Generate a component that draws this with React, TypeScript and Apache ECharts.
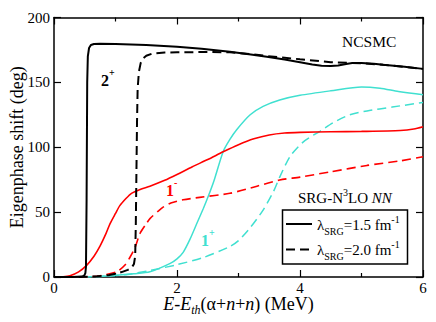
import React, { useEffect, useRef } from "react";
import * as echarts from "echarts";

const FONT = "Liberation Serif, Times New Roman, serif";

// axis ranges: x in MeV, y in degrees
const xRange = [0, 6];
const yRange = [0, 200];

// 2+ channel, lambda = 1.5 fm^-1 (solid)
const twoPlusSolid: number[][] = [
  [0, 0], [0.3, 0], [0.45, 0.3], [0.49, 1], [0.51, 3], [0.52, 8], [0.53, 60], [0.54, 150],
  [0.55, 170], [0.57, 176.5], [0.6, 178.8], [0.65, 179.6], [0.75, 179.8], [1.0, 179.5],
  [1.5, 178.8], [2.0, 177.5], [2.4, 176], [2.86, 173.6], [3.2, 171.5], [3.46, 169.8],
  [3.75, 167.6], [4.0, 165.5], [4.2, 163.8], [4.35, 162.9], [4.5, 162.6], [4.62, 163],
  [4.75, 164.2], [4.85, 164.9], [5.0, 165], [5.2, 164.3], [5.35, 163.6], [5.7, 162],
  [6, 160.4],
];
// 2+ channel, lambda = 2.0 fm^-1 (dashed)
const twoPlusDashed: number[][] = [
  [0.4, 0], [0.7, 0.5], [0.9, 1.5], [1.0, 2.5], [1.1, 3.8], [1.2, 5.5], [1.26, 7],
  [1.3, 10], [1.32, 16], [1.33, 40], [1.34, 80], [1.35, 120], [1.36, 145], [1.38, 158],
  [1.41, 165], [1.45, 168.5], [1.5, 170.5], [1.6, 172.2], [1.8, 173], [2.0, 173.2],
  [2.5, 173.4], [2.86, 173.2], [3.2, 171.8], [3.46, 170.3], [3.75, 169], [4.0, 167.8],
  [4.5, 165.5], [4.85, 165], [5.0, 164.8], [5.35, 163.5], [5.7, 162], [6, 160.4],
];
// 1- channel, solid
const oneMinusSolid: number[][] = [
  [0, 0], [0.15, 0.2], [0.26, 1], [0.4, 4], [0.53, 9], [0.65, 16], [0.75, 24], [0.85, 34],
  [0.91, 41], [1.0, 49], [1.07, 55], [1.17, 60.5], [1.26, 64.5], [1.4, 67.5], [1.56, 70],
  [1.8, 74.5], [2.0, 79], [2.25, 85], [2.5, 90.5], [2.75, 96.5], [3.0, 102], [3.25, 106.5],
  [3.5, 109.5], [3.75, 111], [4.0, 111.5], [4.5, 111.9], [5.0, 112.2], [5.63, 112.9],
  [5.85, 114], [6, 115.8],
];
// 1- channel, dashed
const oneMinusDashed: number[][] = [
  [0.4, 0], [0.6, 0.3], [0.75, 1], [1.02, 4], [1.15, 9], [1.24, 15.6], [1.32, 23], [1.4, 33.7],
  [1.5, 41], [1.56, 45], [1.7, 51], [1.78, 54], [1.9, 57], [2.1, 59.5], [2.37, 61.4],
  [2.86, 64.5], [3.3, 70], [3.67, 74.8], [4.0, 77], [4.49, 81], [5.09, 86], [5.63, 89.5],
  [6, 92.7],
];
// 1+ channel, solid
const onePlusSolid: number[][] = [
  [0.45, 0], [0.7, 0.5], [0.97, 1.2], [1.3, 2.5], [1.56, 4], [1.89, 10.5], [2.0, 14],
  [2.1, 19], [2.21, 29], [2.32, 41], [2.43, 53], [2.51, 62.4], [2.6, 74], [2.75, 96.6],
  [2.86, 106], [2.97, 113.5], [3.19, 125], [3.4, 131.5], [3.67, 136.4], [4.0, 140],
  [4.5, 143.5], [5.0, 146.5], [5.3, 145.5], [5.6, 143], [6, 140.5],
];
// 1+ channel, dashed
const onePlusDashed: number[][] = [
  [0.45, 0], [0.8, 0.5], [1.2, 2], [1.56, 5], [2.0, 9.5], [2.43, 15], [2.86, 23.5], [3.0, 28],
  [3.19, 38], [3.4, 51.6], [3.57, 66], [3.67, 77], [3.84, 93], [4.05, 104], [4.33, 112.5],
  [4.54, 119], [4.81, 125], [5.09, 128], [5.5, 131], [6, 134.5],
];

const RED = "#ff0000";
const CYAN = "#40e0d0";

function lineSeries(data: number[][], color: string, width: number, dashed: boolean, smooth: number) {
  return {
    type: "line",
    data,
    showSymbol: false,
    smooth,
    clip: true,
    lineStyle: { color, width, type: dashed ? [9, 5] : "solid" },
    silent: true,
  };
}

export default function App() {
  const ref = useRef<HTMLDivElement>(null);
  useEffect(() => {
    const chart = echarts.init(ref.current!, null, { renderer: "svg" });
    const axisLine = { show: true, onZero: false, lineStyle: { color: "#000", width: 1.5 } };
    const tick = { show: true, inside: true, length: 7, lineStyle: { color: "#000", width: 1.2 } };
    const minor = { show: true, splitNumber: 2, length: 4, lineStyle: { color: "#000", width: 1.2 } };
    const sup = { fontFamily: FONT, fontSize: 10, verticalAlign: "top" };
    const legendRich = {
      sub: { fontFamily: FONT, fontSize: 10, verticalAlign: "bottom", fill: "#000" },
      sup: { fontFamily: FONT, fontSize: 10, verticalAlign: "top", fill: "#000" },
    };
    chart.setOption({
      animation: false,
      backgroundColor: "#fff",
      textStyle: { fontFamily: FONT },
      grid: { left: 54, right: 13, top: 17.5, bottom: 45, containLabel: false, outerBoundsMode: "none" },
      xAxis: [
        {
          type: "value", position: "bottom", min: xRange[0], max: xRange[1], interval: 2,
          axisLine, axisTick: tick, minorTick: minor,
          splitLine: { show: false },
          axisLabel: { color: "#000", fontFamily: FONT, fontSize: 15, margin: 3 },
          name: "{i|E}-{i|E}{sub|th}(α+{i|n}+{i|n}) (MeV)",
          nameLocation: "middle",
          nameGap: 15,
          nameMoveOverlap: false,
          nameTextStyle: {
            color: "#000", fontFamily: FONT, fontSize: 18, lineHeight: 24,
            rich: {
              i: { fontFamily: FONT, fontSize: 18, fontStyle: "italic", color: "#000" },
              sub: { fontFamily: FONT, fontSize: 12, fontStyle: "italic", color: "#000", verticalAlign: "bottom" },
            },
          },
        },
        {
          type: "value", position: "top", min: xRange[0], max: xRange[1], interval: 2,
          axisLine, axisTick: tick, minorTick: minor,
          splitLine: { show: false },
          axisLabel: { show: false },
        },
      ],
      yAxis: [
        {
          type: "value", position: "left", min: yRange[0], max: yRange[1], interval: 50,
          axisLine, axisTick: tick,
          splitLine: { show: false },
          axisLabel: { color: "#000", fontFamily: FONT, fontSize: 15, margin: 4 },
          name: "Eigenphase shift (deg)",
          nameLocation: "middle",
          nameRotate: 90,
          nameGap: 28,
          nameMoveOverlap: false,
          nameTextStyle: { color: "#000", fontFamily: FONT, fontSize: 18 },
        },
        {
          type: "value", position: "right", min: yRange[0], max: yRange[1], interval: 50,
          axisLine, axisTick: tick,
          splitLine: { show: false },
          axisLabel: { show: false },
        },
      ],
      series: [
        lineSeries(onePlusDashed, CYAN, 1.5, true, 0.25),
        lineSeries(onePlusSolid, CYAN, 1.5, false, 0.25),
        lineSeries(oneMinusDashed, RED, 1.6, true, 0.25),
        lineSeries(oneMinusSolid, RED, 1.6, false, 0.25),
        lineSeries(twoPlusDashed, "#000", 2, true, 0),
        lineSeries(twoPlusSolid, "#000", 2, false, 0),
      ],
      graphic: [
        {
          type: "text", x: 342, y: 41, z: 10,
          style: { text: "NCSMC", fontFamily: FONT, fontSize: 15.5, fill: "#000", verticalAlign: "middle" },
        },
        {
          type: "text", x: 101, y: 80, z: 10,
          style: {
            text: "2{sup|+}", fontFamily: FONT, fontSize: 16, fontWeight: "bold", fill: "#000",
            verticalAlign: "middle", lineHeight: 26,
            rich: { sup: { ...sup, fontWeight: "bold", fill: "#000" } },
          },
        },
        {
          type: "text", x: 166, y: 190, z: 10,
          style: {
            text: "1{sup|-}", fontFamily: FONT, fontSize: 16, fontWeight: "bold", fill: RED,
            verticalAlign: "middle", lineHeight: 26,
            rich: { sup: { ...sup, fontWeight: "bold", fill: RED } },
          },
        },
        {
          type: "text", x: 201, y: 240, z: 10,
          style: {
            text: "1{sup|+}", fontFamily: FONT, fontSize: 16, fontWeight: "bold", fill: CYAN,
            verticalAlign: "middle", lineHeight: 26,
            rich: { sup: { ...sup, fontWeight: "bold", fill: CYAN } },
          },
        },
        {
          type: "text", x: 298, y: 198, z: 10,
          style: {
            text: "SRG-N{sup|3}LO {i|NN}", fontFamily: FONT, fontSize: 15, fill: "#000",
            verticalAlign: "middle", lineHeight: 22,
            rich: {
              sup: { ...sup, fill: "#000" },
              i: { fontFamily: FONT, fontSize: 15, fontStyle: "italic", fill: "#000" },
            },
          },
        },
        {
          type: "rect", z: 9,
          shape: { x: 282.5, y: 210, width: 125, height: 54 },
          style: { fill: "#fff", stroke: "#000", lineWidth: 1.5 },
        },
        {
          type: "line", z: 10,
          shape: { x1: 286, y1: 224, x2: 312, y2: 224 },
          style: { stroke: "#000", lineWidth: 2 },
        },
        {
          type: "line", z: 10,
          shape: { x1: 286, y1: 249.5, x2: 312, y2: 249.5 },
          style: { stroke: "#000", lineWidth: 2, lineDash: [9, 5] },
        },
        {
          type: "text", x: 317, y: 225, z: 10,
          style: {
            text: "λ{sub|SRG}=1.5 fm{sup|-1}", fontFamily: FONT, fontSize: 15, fill: "#000",
            verticalAlign: "middle", lineHeight: 22, rich: legendRich,
          },
        },
        {
          type: "text", x: 317, y: 250, z: 10,
          style: {
            text: "λ{sub|SRG}=2.0 fm{sup|-1}", fontFamily: FONT, fontSize: 15, fill: "#000",
            verticalAlign: "middle", lineHeight: 22, rich: legendRich,
          },
        },
      ],
    });
    return () => chart.dispose();
  }, []);
  return (
    <div
      ref={ref}
      style={{ position: "fixed", left: 0, top: 0, width: 436, height: 322, background: "#fff" }}
    />
  );
}
